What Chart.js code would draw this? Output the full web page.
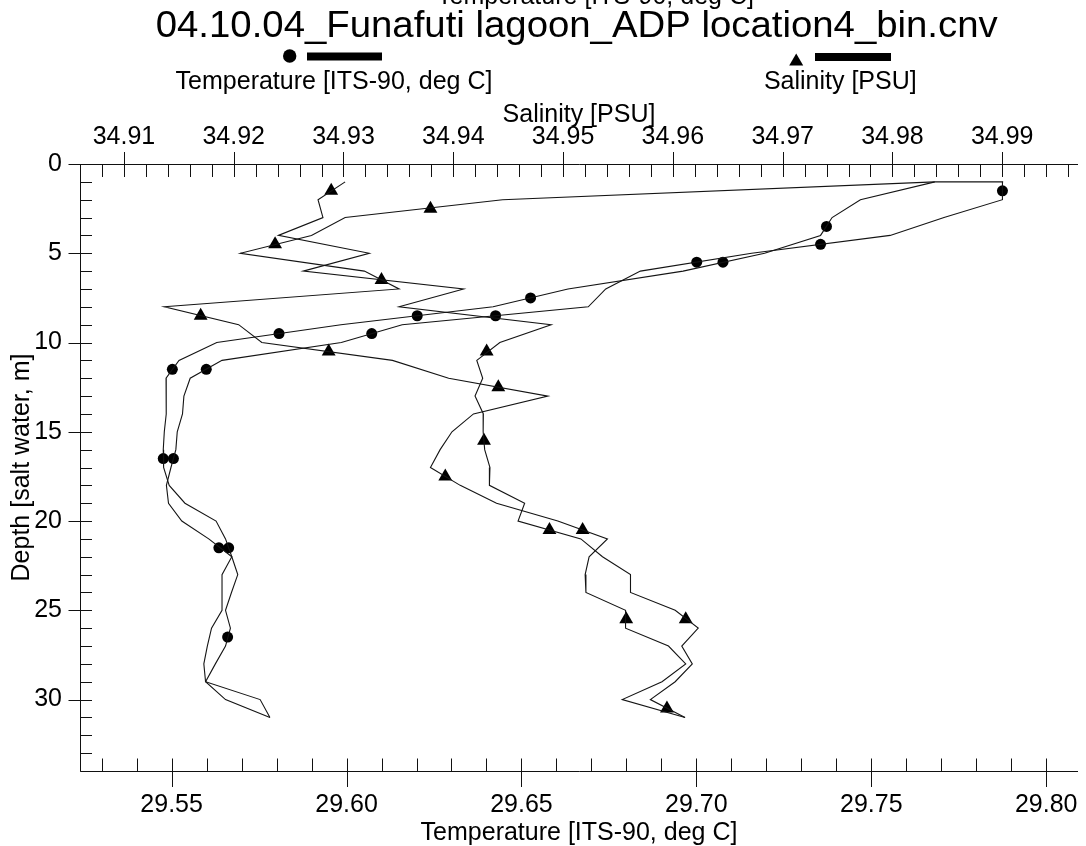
<!DOCTYPE html>
<html><head><meta charset="utf-8">
<script src="https://cdn.jsdelivr.net/npm/chart.js@4/dist/chart.umd.min.js"></script>
<style>html,body{margin:0;padding:0;background:#fff;overflow:hidden}canvas{display:block}</style>
</head><body>
<canvas id="c" width="1086" height="846" style="width:1086px;height:846px"></canvas>
<script>
// ---------- texts ----------
const chartTitle = '04.10.04_Funafuti lagoon_ADP location4_bin.cnv';
const tempLabel = 'Temperature [ITS-90, deg C]';
const salLabel = 'Salinity [PSU]';
const depthLabel = 'Depth [salt water, m]';

// ---------- data ----------
const depthBins = [1,2,3,4,5,6,7,8,9,10,11,12,13,14,15,16,17,18,19,20,21,22,23,24,25,26,27,28,29,30,31];

const tempCast1 = [29.7875,29.7875,29.7708,29.7554,29.7158,29.6840,29.6741,29.6691,29.6159,29.5985,
  29.5644,29.5553,29.5535,29.5531,29.5516,29.5512,29.5498,29.5485,29.5491,29.5529,
  29.5606,29.5672,29.5644,29.5644,29.5644,29.5614,29.5602,29.5592,29.5597,29.5654,29.5781];

const tempCast2Depths = [1,1,2,3,4,5,6,7,8,9,10,11,12,13,14,15,16,17,18,19,20,21,22,23,24,25,26,27,28,29,30,31];
const tempCast2 = [29.7877,29.7682,29.7469,29.7388,29.7355,29.7195,29.6962,29.6633,29.6419,29.5984,
  29.5629,29.5521,29.5484,29.5485,29.5484,29.5479,29.5476,29.5477,29.5493,29.5538,
  29.5627,29.5654,29.5672,29.5689,29.5671,29.5654,29.5668,29.5654,29.5625,29.5597,29.5753,29.5781];

const salCast1 = [34.93015,34.92768,34.92813,34.92407,34.93235,34.92633,34.94094,34.93506,34.94891,34.94424,
  34.94214,34.94268,34.94198,34.94274,34.94272,34.94286,34.94334,34.94329,34.94650,34.94590,
  34.95162,34.95359,34.95614,34.95614,34.96021,34.96231,34.96081,34.96177,34.96021,34.95795,34.96111];

const salCast2 = [34.98385,34.94449,34.93015,34.92708,34.92061,34.93190,34.93506,34.91368,34.92045,34.92256,
  34.93446,34.93958,34.94862,34.94184,34.93988,34.93880,34.93792,34.94063,34.94394,34.94952,
  34.95404,34.95237,34.95201,34.95208,34.95569,34.95569,34.95960,34.96117,34.95901,34.95539,34.96111];

const tempMarkDepths = [1.5,3.5,4.5,5.5,5.5,7.5,8.5,8.5,9.5,9.5,11.5,11.5,16.5,16.5,21.5,21.5,26.5];
const tempMarkValues = [29.7875,29.7372,29.7355,29.7076,29.7001,29.6526,29.6202,29.6426,29.5807,29.6072,
  29.5502,29.5599,29.5476,29.5505,29.5635,29.5663,29.5660];

const salMarkDepths = [1.5,2.5,4.5,6.5,8.5,10.5,10.5,12.5,15.5,17.5,20.5,20.5,25.5,25.5,30.5];
const salMarkValues = [34.92888,34.93792,34.92377,34.93346,34.91699,34.92865,34.94304,34.94410,34.94280,
  34.93927,34.94876,34.95178,34.95575,34.96117,34.95946];

// ---------- ticks / ranges ----------
const tempTicks = [29.55,29.60,29.65,29.70,29.75,29.80];
const salTicks = [34.91,34.92,34.93,34.94,34.95,34.96,34.97,34.98,34.99];
const depthTicks = [0,5,10,15,20,25,30];
const tempRange = [29.5238, 29.8091];
const salRange = [34.9060, 34.9969];
const depthRange = [0, 34];

// ---------- build ----------
const pts = (xs, ds) => xs.map((v, i) => ({x: v, y: ds[i]}));
const LINE = '#141414';
const FONT = "'Liberation Sans', Arial, sans-serif";

function fixSize(prop, val) {
  return function(s) {
    s[prop] = val;
    s.paddingLeft = 0; s.paddingRight = 0; s.paddingTop = 0; s.paddingBottom = 0;
  };
}
function setTicks(arr) { return function(s) { s.ticks = arr.map(v => ({value: v})); }; }

const decor = {
  id: 'decor',
  afterDraw(chart) {
    const ctx = chart.ctx, a = chart.chartArea;
    const xT = chart.scales.xT, xS = chart.scales.xS, y = chart.scales.y;
    const L = Math.round(a.left) + 0.5, T = Math.round(a.top) + 0.5, B = Math.round(a.bottom) + 0.5;
    ctx.save();
    ctx.strokeStyle = '#111'; ctx.lineWidth = 1;
    ctx.beginPath();
    ctx.moveTo(L, T); ctx.lineTo(a.right, T);
    ctx.moveTo(L, T); ctx.lineTo(L, B);
    ctx.moveTo(L, B); ctx.lineTo(a.right, B);
    // top (salinity) ticks: minor 0.002, major 0.01
    for (let k = Math.ceil(xS.min * 500 - 1e-6); k <= Math.floor(xS.max * 500 + 1e-6); k++) {
      const px = Math.round(xS.getPixelForValue(k / 500)) + 0.5;
      if (px < L) continue;
      ctx.moveTo(px, k % 5 === 0 ? T - 12.5 : T); ctx.lineTo(px, T + 12.5);
    }
    // bottom (temperature) ticks: minor 0.01, major 0.05
    for (let k = Math.ceil(xT.min * 100 - 1e-6); k <= Math.floor(xT.max * 100 + 1e-6); k++) {
      const px = Math.round(xT.getPixelForValue(k / 100)) + 0.5;
      if (px < L) continue;
      ctx.moveTo(px, B - 13); ctx.lineTo(px, k % 5 === 0 ? B + 15.5 : B);
    }
    // left (depth) ticks: minor 1, major 5
    for (let k = Math.ceil(y.min); k <= Math.floor(y.max); k++) {
      const py = Math.round(y.getPixelForValue(k)) + 0.5;
      ctx.moveTo(k % 5 === 0 ? L - 12 : L, py); ctx.lineTo(L + 11.5, py);
    }
    ctx.stroke();

    // headings
    ctx.fillStyle = '#000';
    ctx.textAlign = 'center';
    ctx.textBaseline = 'alphabetic';
    ctx.font = '25px ' + FONT;
    ctx.fillText(tempLabel, 595.5, 3.5);
    ctx.save();
    ctx.translate(576.7, 36.5);
    ctx.scale(1.065, 1);
    ctx.font = '36px ' + FONT;
    ctx.fillText(chartTitle, 0, 0);
    ctx.restore();

    // legend
    ctx.beginPath(); ctx.arc(289.7, 56, 6.7, 0, Math.PI * 2); ctx.fill();
    ctx.fillRect(307, 52.5, 75, 8);
    ctx.beginPath(); ctx.moveTo(796.2, 53.5); ctx.lineTo(803.2, 65.5); ctx.lineTo(789.2, 65.5); ctx.closePath(); ctx.fill();
    ctx.fillRect(815, 53, 76, 8);
    ctx.textBaseline = 'middle';
    ctx.font = '25px ' + FONT;
    ctx.fillText(tempLabel, 334, 82);
    ctx.fillText(salLabel, 840.3, 82);
    ctx.restore();
  }
};

const lineDs = (label, data, axis) => ({
  label, data, xAxisID: axis, yAxisID: 'y', showLine: true,
  borderColor: LINE, borderWidth: 1.1, pointRadius: 0, pointHoverRadius: 0, fill: false, tension: 0
});
const markDs = (label, data, axis, style, r) => ({
  label, data, xAxisID: axis, yAxisID: 'y', showLine: false,
  pointStyle: style, pointRadius: r, pointHoverRadius: r,
  backgroundColor: '#000', borderColor: '#000', borderWidth: 0
});

const tickFont = {family: FONT, size: 25, lineHeight: 1};

new Chart(document.getElementById('c'), {
  type: 'scatter',
  data: {
    datasets: [
      lineDs('Temperature cast 1', pts(tempCast1, depthBins), 'xT'),
      lineDs('Temperature cast 2', pts(tempCast2, tempCast2Depths), 'xT'),
      lineDs('Salinity cast 1', pts(salCast1, depthBins), 'xS'),
      lineDs('Salinity cast 2', pts(salCast2, depthBins), 'xS'),
      markDs('Temperature markers', pts(tempMarkValues, tempMarkDepths), 'xT', 'circle', 5.5),
      markDs('Salinity markers', pts(salMarkValues, salMarkDepths), 'xS', 'triangle', 8)
    ]
  },
  options: {
    responsive: false,
    animation: false,
    devicePixelRatio: 1,
    layout: {padding: {top: 100, left: 0, right: 0, bottom: 0}},
    plugins: {legend: {display: false}, title: {display: false}, tooltip: {enabled: false}},
    events: [],
    scales: {
      xT: {
        type: 'linear', position: 'bottom', min: tempRange[0], max: tempRange[1],
        grid: {display: false, drawTicks: false}, border: {display: false},
        afterBuildTicks: setTicks(tempTicks),
        afterFit: fixSize('height', 75),
        ticks: {font: tickFont, color: '#000', padding: 21.5, maxRotation: 0, autoSkip: false,
          callback: v => Number(v).toFixed(2)},
        title: {display: true, text: tempLabel, color: '#000', font: tickFont, padding: {top: 0, bottom: 0}}
      },
      xS: {
        type: 'linear', position: 'top', min: salRange[0], max: salRange[1],
        grid: {display: false, drawTicks: false}, border: {display: false},
        afterBuildTicks: setTicks(salTicks),
        afterFit: fixSize('height', 64),
        ticks: {font: tickFont, color: '#000', padding: 14, maxRotation: 0, autoSkip: false,
          callback: v => Number(v).toFixed(2)},
        title: {display: true, text: salLabel, color: '#000', font: tickFont, padding: {top: 2.5, bottom: 0}}
      },
      y: {
        type: 'linear', position: 'left', reverse: true, min: depthRange[0], max: depthRange[1],
        grid: {display: false, drawTicks: false}, border: {display: false},
        afterBuildTicks: setTicks(depthTicks),
        afterFit: fixSize('width', 80),
        ticks: {font: tickFont, color: '#000', padding: 18, autoSkip: false,
          callback: v => String(v)},
        title: {display: true, text: depthLabel, color: '#000', font: tickFont, padding: {top: 9.5, bottom: 0}}
      }
    }
  },
  plugins: [decor]
});
</script>
</body></html>
